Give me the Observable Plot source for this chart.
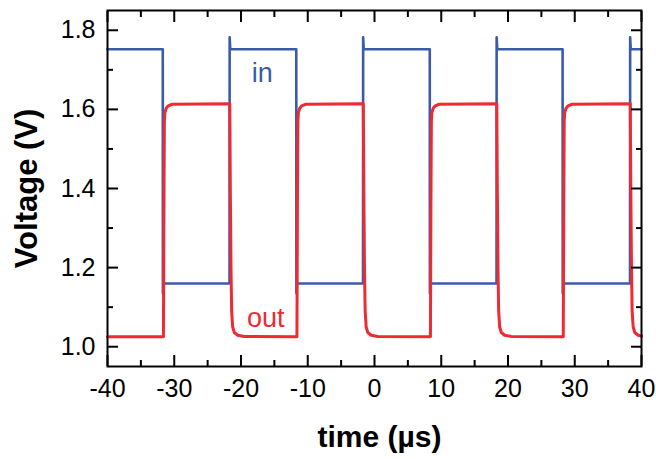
<!DOCTYPE html>
<html>
<head>
<meta charset="utf-8">
<script src="https://cdn.jsdelivr.net/npm/d3@7"></script>
<script src="https://cdn.jsdelivr.net/npm/@observablehq/plot@0.6"></script>
<style>
  html, body { margin: 0; padding: 0; background: white; }
  #chart { width: 656px; height: 459px; }
</style>
</head>
<body>
<div id="chart"></div>
<script>
// ---- data ----
const xMajorTicks = [-40, -30, -20, -10, 0, 10, 20, 30, 40];
const xMinorTicks = [-35, -25, -15, -5, 5, 15, 25, 35];
const yMajorTicks = [1.0, 1.2, 1.4, 1.6, 1.8];
const yMinorTicks = [1.1, 1.3, 1.5, 1.7];

// input waveform ("in")
const tIn = [-40,
  -31.72, -31.7, -31.62, -31.5,
  -21.72, -21.7, -21.62, -21.5,
  -11.72, -11.7, -11.62, -11.5,
  -1.72, -1.7, -1.62, -1.5,
  8.28, 8.3, 8.38, 8.5,
  18.28, 18.3, 18.38, 18.5,
  28.18, 28.2, 28.28, 28.4,
  38.28, 38.3, 38.38, 38.5,
  40];
const vIn = [1.752,
  1.752, 1.135, 1.158, 1.16,
  1.16, 1.782, 1.755, 1.752,
  1.752, 1.135, 1.158, 1.16,
  1.16, 1.782, 1.755, 1.752,
  1.752, 1.135, 1.158, 1.16,
  1.16, 1.782, 1.755, 1.752,
  1.752, 1.135, 1.158, 1.16,
  1.16, 1.782, 1.755, 1.752,
  1.752];

// output waveform ("out")
const tOut = [-40,
  -31.62, -31.55, -31.48, -31.4, -31.2, -30.9, -30.3,
  -21.68, -21.6, -21.5, -21.4, -21.25, -21.0, -20.5, -19.5,
  -11.62, -11.55, -11.48, -11.4, -11.2, -10.9, -10.3,
  -1.68, -1.6, -1.5, -1.4, -1.25, -1.0, -0.5, 0.5,
  8.38, 8.45, 8.52, 8.6, 8.8, 9.1, 9.7,
  18.32, 18.4, 18.5, 18.6, 18.75, 19.0, 19.5, 20.5,
  28.28, 28.35, 28.42, 28.5, 28.7, 29.0, 29.6,
  38.32, 38.4, 38.5, 38.6, 38.75, 39.0, 39.5, 40];
const vOut = [1.025,
  1.025, 1.35, 1.57, 1.592, 1.603, 1.609, 1.613,
  1.614, 1.4, 1.2, 1.09, 1.05, 1.036, 1.029, 1.026,
  1.025, 1.35, 1.57, 1.592, 1.603, 1.609, 1.613,
  1.614, 1.4, 1.2, 1.09, 1.05, 1.036, 1.029, 1.026,
  1.025, 1.35, 1.57, 1.592, 1.603, 1.609, 1.613,
  1.614, 1.4, 1.2, 1.09, 1.05, 1.036, 1.029, 1.026,
  1.025, 1.35, 1.57, 1.592, 1.603, 1.609, 1.613,
  1.614, 1.4, 1.2, 1.09, 1.05, 1.036, 1.029, 1.027];

const seriesLabels = ["in", "out"];
const labelX = [-16.8, -16.3];
const labelY = [1.69, 1.071];

// ---- build tables ----
const inData = tIn.map((t, i) => ({t, v: vIn[i]}));
const outData = tOut.map((t, i) => ({t, v: vOut[i]}));
const blue = "#3b5ba9";
const red = "#ee2a33";
const labelData = seriesLabels.map((s, i) => ({s, x: labelX[i], y: labelY[i], c: i === 0 ? blue : red}));

const fmtX = d => String(d);
const fmtY = d3.format(".1f");

const chart = Plot.plot({
  width: 656,
  height: 459,
  marginLeft: 107,
  marginRight: 15,
  marginTop: 10,
  marginBottom: 93,
  x: {domain: [-40, 40]},
  y: {domain: [0.95, 1.85]},
  style: {fontFamily: "'Liberation Sans', Arial, Helvetica, sans-serif", background: "white", color: "black"},
  marks: [
    Plot.line(inData, {x: "t", y: "v", stroke: blue, strokeWidth: 2.6, curve: "linear"}),
    Plot.line(outData, {x: "t", y: "v", stroke: red, strokeWidth: 3, curve: "linear"}),
    Plot.text(labelData, {x: "x", y: "y", text: "s", fill: "c", fontSize: 27}),
    // tick labels
    Plot.axisX(xMajorTicks, {anchor: "bottom", tickSize: 0, tickPadding: 13, fontSize: 25, tickFormat: fmtX, label: null}),
    Plot.axisY(yMajorTicks, {anchor: "left", tickSize: 0, tickPadding: 12, fontSize: 25, tickFormat: fmtY, label: null}),
    // inward ticks
    Plot.axisX(xMajorTicks, {anchor: "bottom", tickSize: -11, strokeWidth: 2, text: null, label: null}),
    Plot.axisX(xMinorTicks, {anchor: "bottom", tickSize: -6, strokeWidth: 2, text: null, label: null}),
    Plot.axisX(xMajorTicks, {anchor: "top", tickSize: -11, strokeWidth: 2, text: null, label: null}),
    Plot.axisX(xMinorTicks, {anchor: "top", tickSize: -6, strokeWidth: 2, text: null, label: null}),
    Plot.axisY(yMajorTicks, {anchor: "left", tickSize: -11, strokeWidth: 2, text: null, label: null}),
    Plot.axisY(yMinorTicks, {anchor: "left", tickSize: -6, strokeWidth: 2, text: null, label: null}),
    Plot.axisY(yMajorTicks, {anchor: "right", tickSize: -11, strokeWidth: 2, text: null, label: null}),
    Plot.axisY(yMinorTicks, {anchor: "right", tickSize: -6, strokeWidth: 2, text: null, label: null}),
    Plot.frame({stroke: "black", strokeWidth: 2}),
    // axis titles
    Plot.text(["time (µs)"], {frameAnchor: "bottom", dx: 5, dy: 71, fontSize: 30, fontWeight: "bold", lineAnchor: "middle", textAnchor: "middle"}),
    Plot.text(["Voltage (V)"], {frameAnchor: "left", dx: -80, rotate: -90, fontSize: 31, fontWeight: "bold", lineAnchor: "middle", textAnchor: "middle"})
  ]
});
document.getElementById("chart").appendChild(chart);
</script>
</body>
</html>
